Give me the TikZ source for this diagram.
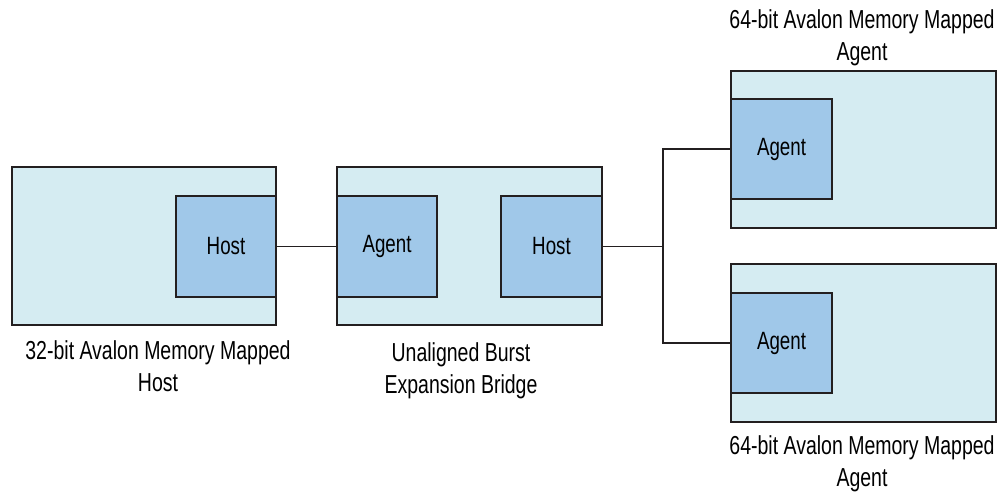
\documentclass[tikz,border=0pt]{standalone}
\usepackage{fontspec}
\setmainfont{Liberation Sans}[FakeStretch=0.75]
\definecolor{outerfill}{RGB}{213,236,242}
\definecolor{innerfill}{RGB}{160,200,233}
\definecolor{edge}{RGB}{35,31,32}
\begin{document}
\begin{tikzpicture}[x=1pt,y=-1pt,
  outerbox/.style={draw=edge,line width=1.4pt,fill=outerfill,rectangle,inner sep=0pt},
  innerbox/.style={draw=edge,line width=1.4pt,fill=innerfill,rectangle,inner sep=0pt,font=\fontsize{25}{28}\selectfont},
  wire/.style={draw=edge,line width=1.4pt},
  lbl/.style={align=center,font=\fontsize{26}{32.5}\selectfont,inner sep=0pt}]
\useasboundingbox (0,0) rectangle (1004,495);
% outer boxes
\node[outerbox,minimum width=264pt,minimum height=158pt] (lout) at (144,246) {};
\node[outerbox,minimum width=265pt,minimum height=158pt] (bout) at (469.5,246) {};
\node[outerbox,minimum width=265pt,minimum height=157pt] (tout) at (863.5,149.5) {};
\node[outerbox,minimum width=265pt,minimum height=158pt] (dout) at (863.5,343) {};
% inner boxes
\node[innerbox,minimum width=100pt,minimum height=101pt] (lhost) at (226,246.5) {Host};
\node[innerbox,minimum width=100pt,minimum height=101pt] (bagent) at (387,246.5) {Agent};
\node[innerbox,minimum width=101pt,minimum height=101pt] (bhost) at (551.5,246.5) {Host};
\node[innerbox,minimum width=101pt,minimum height=100pt] (tagent) at (781.5,149) {Agent};
\node[innerbox,minimum width=101pt,minimum height=100pt] (dagent) at (781.5,343) {Agent};
% connectors
\coordinate (j) at (663,246.5);
\draw[wire] (lhost.east) -- (bagent.west);
\draw[wire] (bhost.east) -- (j);
\draw[wire] (j) |- (tagent.west);
\draw[wire] (j) |- (dagent.west);
% labels
\node[lbl] (llbl) at (158,366) {32-bit Avalon Memory Mapped\\Host};
\node[lbl] (blbl) at (461,371) {Unaligned Burst\\Expansion Bridge};
\node[lbl] (tlbl) at (862,38) {64-bit Avalon Memory Mapped\\Agent};
\node[lbl] (dlbl) at (862,464) {64-bit Avalon Memory Mapped\\Agent};
\end{tikzpicture}
\end{document}
